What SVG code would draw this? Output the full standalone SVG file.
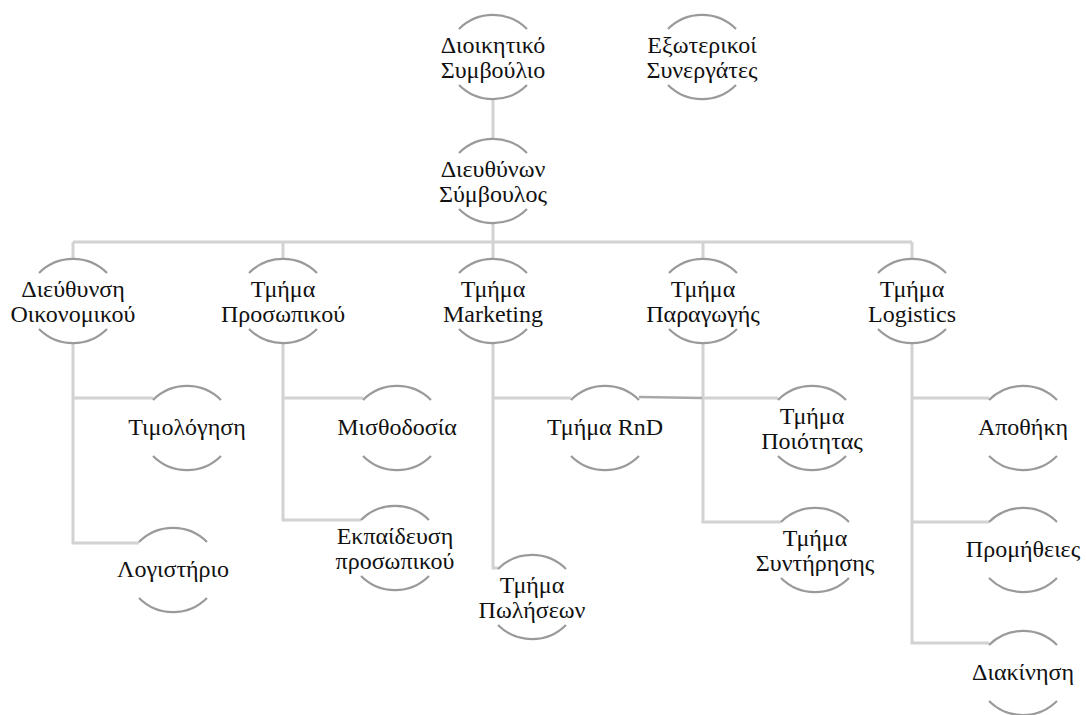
<svg xmlns="http://www.w3.org/2000/svg" width="1086" height="715" viewBox="0 0 1086 715">
  <defs>
    <!-- node outline: two facing arcs above and below the label -->
    <g id="ring" fill="none" stroke="#9a9a9a" stroke-width="2.2">
      <path d="M -34 -28 A 48 48 0 0 1 34 -28"/>
      <path d="M -34 28 A 48 48 0 0 0 34 28"/>
    </g>
  </defs>
  <rect x="0" y="0" width="1086" height="715" fill="#ffffff"/>

  <g id="connectors" fill="none" stroke="#d2d2d2" stroke-width="3">
    <line x1="493" y1="99" x2="493" y2="140"/>
    <line x1="493" y1="223" x2="493" y2="242"/>
    <line x1="73" y1="242" x2="912" y2="242"/>
    <line x1="73" y1="242" x2="73" y2="260"/>
    <line x1="283" y1="242" x2="283" y2="260"/>
    <line x1="493" y1="242" x2="493" y2="260"/>
    <line x1="703" y1="242" x2="703" y2="260"/>
    <line x1="912" y1="242" x2="912" y2="260"/>
    <!-- finance branch -->
    <polyline points="73,342 73,543 139,543"/>
    <line x1="73" y1="398" x2="153" y2="398"/>
    <!-- personnel branch -->
    <polyline points="283,342 283,520 361,520"/>
    <line x1="283" y1="398" x2="363" y2="398"/>
    <!-- marketing branch -->
    <polyline points="493,342 493,568 498,568"/>
    <line x1="493" y1="398" x2="571" y2="398"/>
    <!-- production branch -->
    <polyline points="703,342 703,522 781,522"/>
    <line x1="703" y1="398" x2="778" y2="398"/>
    <!-- logistics branch -->
    <polyline points="912,342 912,643 989,643"/>
    <line x1="912" y1="398" x2="989" y2="398"/>
    <line x1="912" y1="522" x2="989" y2="522"/>
    <!-- R&D to production -->
    <line x1="639" y1="397" x2="702" y2="398" stroke="#a8a8a8" stroke-width="2.5"/>
  </g>

  <g id="board">
    <use href="#ring" x="493" y="57"/>
    <text x="493" y="53" font-family="Times New Roman, Liberation Serif, serif" font-size="24" text-anchor="middle" fill="#111">Διοικητικό</text>
    <text x="493" y="78" font-family="Times New Roman, Liberation Serif, serif" font-size="24" text-anchor="middle" fill="#111">Συμβούλιο</text>
  </g>
  <g id="partners">
    <use href="#ring" x="702" y="57"/>
    <text x="702" y="53" font-family="Times New Roman, Liberation Serif, serif" font-size="24" text-anchor="middle" fill="#111">Εξωτερικοί</text>
    <text x="702" y="78" font-family="Times New Roman, Liberation Serif, serif" font-size="24" text-anchor="middle" fill="#111">Συνεργάτες</text>
  </g>
  <g id="ceo">
    <use href="#ring" x="493" y="181"/>
    <text x="493" y="177" font-family="Times New Roman, Liberation Serif, serif" font-size="24" text-anchor="middle" fill="#111">Διευθύνων</text>
    <text x="493" y="202" font-family="Times New Roman, Liberation Serif, serif" font-size="24" text-anchor="middle" fill="#111">Σύμβουλος</text>
  </g>

  <g id="finance">
    <use href="#ring" x="73" y="301"/>
    <text x="73" y="297" font-family="Times New Roman, Liberation Serif, serif" font-size="24" text-anchor="middle" fill="#111">Διεύθυνση</text>
    <text x="73" y="322" font-family="Times New Roman, Liberation Serif, serif" font-size="24" text-anchor="middle" fill="#111">Οικονομικού</text>
  </g>
  <g id="personnel">
    <use href="#ring" x="283" y="301"/>
    <text x="283" y="297" font-family="Times New Roman, Liberation Serif, serif" font-size="24" text-anchor="middle" fill="#111">Τμήμα</text>
    <text x="283" y="322" font-family="Times New Roman, Liberation Serif, serif" font-size="24" text-anchor="middle" fill="#111">Προσωπικού</text>
  </g>
  <g id="marketing">
    <use href="#ring" x="493" y="301"/>
    <text x="493" y="297" font-family="Times New Roman, Liberation Serif, serif" font-size="24" text-anchor="middle" fill="#111">Τμήμα</text>
    <text x="493" y="322" font-family="Times New Roman, Liberation Serif, serif" font-size="24" text-anchor="middle" fill="#111">Marketing</text>
  </g>
  <g id="production">
    <use href="#ring" x="703" y="301"/>
    <text x="703" y="297" font-family="Times New Roman, Liberation Serif, serif" font-size="24" text-anchor="middle" fill="#111">Τμήμα</text>
    <text x="703" y="322" font-family="Times New Roman, Liberation Serif, serif" font-size="24" text-anchor="middle" fill="#111">Παραγωγής</text>
  </g>
  <g id="logistics">
    <use href="#ring" x="912" y="301"/>
    <text x="912" y="297" font-family="Times New Roman, Liberation Serif, serif" font-size="24" text-anchor="middle" fill="#111">Τμήμα</text>
    <text x="912" y="322" font-family="Times New Roman, Liberation Serif, serif" font-size="24" text-anchor="middle" fill="#111">Logistics</text>
  </g>

  <g id="invoicing">
    <use href="#ring" x="187" y="428"/>
    <text x="187" y="435" font-family="Times New Roman, Liberation Serif, serif" font-size="24" text-anchor="middle" fill="#111">Τιμολόγηση</text>
  </g>
  <g id="accounting">
    <use href="#ring" x="173" y="570"/>
    <text x="173" y="577" font-family="Times New Roman, Liberation Serif, serif" font-size="24" text-anchor="middle" fill="#111">Λογιστήριο</text>
  </g>
  <g id="payroll">
    <use href="#ring" x="397" y="428"/>
    <text x="397" y="435" font-family="Times New Roman, Liberation Serif, serif" font-size="24" text-anchor="middle" fill="#111">Μισθοδοσία</text>
  </g>
  <g id="training">
    <use href="#ring" x="395" y="548"/>
    <text x="395" y="544" font-family="Times New Roman, Liberation Serif, serif" font-size="24" text-anchor="middle" fill="#111">Εκπαίδευση</text>
    <text x="395" y="569" font-family="Times New Roman, Liberation Serif, serif" font-size="24" text-anchor="middle" fill="#111">προσωπικού</text>
  </g>
  <g id="rnd">
    <use href="#ring" x="605" y="428"/>
    <text x="605" y="435" font-family="Times New Roman, Liberation Serif, serif" font-size="24" text-anchor="middle" fill="#111">Τμήμα RnD</text>
  </g>
  <g id="sales">
    <use href="#ring" x="532" y="597"/>
    <text x="532" y="593" font-family="Times New Roman, Liberation Serif, serif" font-size="24" text-anchor="middle" fill="#111">Τμήμα</text>
    <text x="532" y="618" font-family="Times New Roman, Liberation Serif, serif" font-size="24" text-anchor="middle" fill="#111">Πωλήσεων</text>
  </g>
  <g id="quality">
    <use href="#ring" x="812" y="428"/>
    <text x="812" y="424" font-family="Times New Roman, Liberation Serif, serif" font-size="24" text-anchor="middle" fill="#111">Τμήμα</text>
    <text x="812" y="449" font-family="Times New Roman, Liberation Serif, serif" font-size="24" text-anchor="middle" fill="#111">Ποιότητας</text>
  </g>
  <g id="maintenance">
    <use href="#ring" x="815" y="550"/>
    <text x="815" y="546" font-family="Times New Roman, Liberation Serif, serif" font-size="24" text-anchor="middle" fill="#111">Τμήμα</text>
    <text x="815" y="571" font-family="Times New Roman, Liberation Serif, serif" font-size="24" text-anchor="middle" fill="#111">Συντήρησης</text>
  </g>
  <g id="warehouse">
    <use href="#ring" x="1023" y="428"/>
    <text x="1023" y="435" font-family="Times New Roman, Liberation Serif, serif" font-size="24" text-anchor="middle" fill="#111">Αποθήκη</text>
  </g>
  <g id="procurement">
    <use href="#ring" x="1023" y="550"/>
    <text x="1023" y="557" font-family="Times New Roman, Liberation Serif, serif" font-size="24" text-anchor="middle" fill="#111">Προμήθειες</text>
  </g>
  <g id="distribution">
    <use href="#ring" x="1023" y="673"/>
    <text x="1023" y="680" font-family="Times New Roman, Liberation Serif, serif" font-size="24" text-anchor="middle" fill="#111">Διακίνηση</text>
  </g>
</svg>
